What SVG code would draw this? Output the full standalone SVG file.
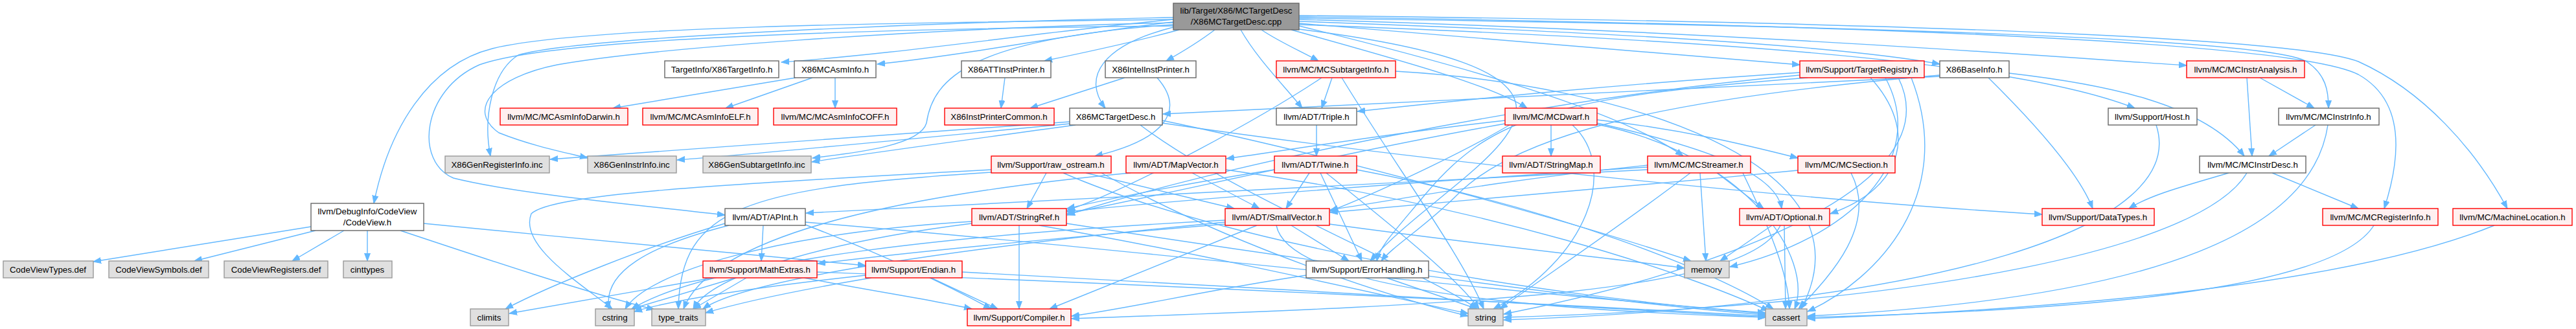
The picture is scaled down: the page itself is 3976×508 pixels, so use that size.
<svg xmlns="http://www.w3.org/2000/svg" width="3976" height="508" viewBox="0 0 3976 508">
<defs>
<style>
.n rect{fill:#ffffff;stroke:#666666;stroke-width:1.4}
.r rect{fill:#fff0f0;stroke:#ff0000;stroke-width:1.4}
.g rect{fill:#e0e0e0;stroke:#999999;stroke-width:1.4}
.root rect{fill:#999999;stroke:#666666;stroke-width:1.4}
text{font-family:"Liberation Sans",Arial,Helvetica,sans-serif;font-size:13.3px;fill:#000000;text-anchor:middle}
#edges path{fill:none;stroke:#63b8ff;stroke-width:1.4;marker-end:url(#a)}
</style>
<marker id="a" markerWidth="13" markerHeight="10" refX="12" refY="5" orient="auto" markerUnits="userSpaceOnUse">
<path d="M0,0.5 L12,5 L0,9.5 z" fill="#63b8ff" stroke="#63b8ff" stroke-width="1"/>
</marker>
</defs>
<rect x="0" y="0" width="3976" height="508" fill="#ffffff"/>
<g id="edges">
<!-- root -->
<path d="M1811,30 C1600,50 1400,82 1206,96"/>
<path d="M1811,34 C1650,52 1500,84 1354,99"/>
<path d="M1811,27 C1500,33 900,55 800,85 C760,110 745,180 757,241"/>
<path d="M1811,35 C1400,45 1000,75 860,100 C760,120 720,170 770,205 C820,225 870,235 907,244"/>
<path d="M1811,38 C1500,60 1440,120 1430,190 C1420,225 1320,236 1254,244"/>
<path d="M1811,30 C1400,35 900,40 760,75 C660,100 600,200 577,314"/>
<path d="M1811,40 C1300,45 850,60 740,100 C650,140 640,250 700,275 C800,300 1000,318 1119,332"/>
<path d="M1875,46 C1850,65 1825,80 1800,94"/>
<path d="M1820,46 C1750,65 1680,80 1612,94"/>
<path d="M1811,42 C1700,70 1670,120 1706,167"/>
<path d="M1947,46 C1975,65 2010,80 2035,94"/>
<path d="M1915,46 C1940,90 1980,130 2010,167"/>
<path d="M1993,46 C2150,90 2300,130 2357,167"/>
<path d="M2005,40 C2250,100 2500,170 2598,241"/>
<path d="M2005,45 C2600,120 2250,250 2115,403"/>
<path d="M2005,38 C2600,60 3100,90 3295,167"/>
<path d="M2005,36 C2300,60 2600,85 2778,100"/>
<path d="M2005,33 C2500,50 2850,72 2994,99"/>
<path d="M2005,30 C2700,50 3200,90 3375,101"/>
<path d="M2005,28 C2900,40 3500,60 3560,95 C3590,115 3594,140 3594,167"/>
<path d="M2005,26 C3000,40 3550,70 3640,115 C3720,160 3700,260 3680,322"/>
<path d="M2005,24 C3000,35 3550,60 3640,95 C3740,140 3820,230 3870,322"/>
<!-- CodeView -->
<path d="M480,350 L144,404"/>
<path d="M487,356 L300,403"/>
<path d="M531,356 L451,403"/>
<path d="M567,356 L567,403"/>
<path d="M654,345 C900,370 1200,395 1336,410"/>
<path d="M618,356 C750,400 900,450 1010,478"/>
<!-- X86MCAsmInfo -->
<path d="M1228,120 L946,167"/>
<path d="M1254,120 L1120,167"/>
<path d="M1289,120 L1289,167"/>
<!-- printers -->
<path d="M1551,120 L1545,167"/>
<path d="M1736,120 L1590,167"/>
<path d="M1786,120 C1830,170 1800,215 1690,241"/>
<!-- X86MCTargetDesc.h -->
<path d="M1651,188 C1300,215 1000,235 849,246"/>
<path d="M1651,191 C1400,215 1200,235 1045,247"/>
<path d="M1660,193 C1500,215 1350,235 1253,250"/>
<path d="M1794,190 C2200,250 2800,310 3152,331"/>
<path d="M1794,186 C2100,250 2450,350 2610,403"/>
<path d="M1760,193 C1900,300 2200,420 2280,477"/>
<!-- MCSubtargetInfo -->
<path d="M2056,120 L2040,167"/>
<path d="M2040,120 C1950,180 1750,290 1647,325"/>
<path d="M2071,120 C2150,250 2260,400 2290,477"/>
<path d="M2154,110 C2500,130 2900,250 2780,477"/>
<!-- TargetRegistry -->
<path d="M2778,112 C2500,130 2300,150 2095,172"/>
<path d="M2887,120 C2960,200 2940,290 2825,330"/>
<path d="M2778,116 C2400,150 1900,250 1647,332"/>
<path d="M2790,120 C2400,150 2300,180 2200,300 C2150,360 2130,380 2125,403"/>
<path d="M2910,120 C2980,250 2850,370 2670,412"/>
<path d="M2930,120 C3020,300 2600,430 2321,485"/>
<path d="M2950,120 C3020,300 2900,430 2790,481"/>
<!-- X86BaseInfo -->
<path d="M2994,118 C2500,140 2100,165 1795,176"/>
<path d="M3101,113 C3250,130 3400,160 3464,241"/>
<path d="M3069,120 C3150,200 3210,270 3230,322"/>
<path d="M2994,116 C2600,150 2350,200 2250,300 C2200,350 2150,380 2132,403"/>
<!-- MCInstrAnalysis / InstrInfo / InstrDesc -->
<path d="M3468,120 L3476,241"/>
<path d="M3488,120 L3572,167"/>
<path d="M3574,193 L3502,241"/>
<path d="M3593,193 C3570,350 3350,460 2790,488"/>
<path d="M3507,267 L3640,322"/>
<path d="M3440,267 C3380,285 3320,300 3286,322"/>
<path d="M3468,267 C3400,380 3000,470 2321,490"/>
<path d="M3664,348 C3600,450 3200,480 2790,490"/>
<path d="M3850,348 C3600,450 3100,480 2790,492"/>
<!-- Host -->
<path d="M3328,193 C3380,350 3000,470 2321,494"/>
<!-- Triple -->
<path d="M2032,193 L2032,241"/>
<!-- MCDwarf -->
<path d="M2394,193 L2394,241"/>
<path d="M2323,186 C2150,205 2000,230 1893,245"/>
<path d="M2330,193 C2250,240 2120,300 2053,326"/>
<path d="M2323,191 C2100,230 1800,300 1647,330"/>
<path d="M2465,190 C2600,220 2740,260 2750,322"/>
<path d="M2465,185 C2600,200 2700,225 2775,244"/>
<path d="M2427,193 C2500,260 2450,400 2305,477"/>
<path d="M2465,192 C2700,240 2800,400 2770,477"/>
<!-- Twine -->
<path d="M2021,267 L1985,322"/>
<path d="M1967,262 C1850,280 1720,305 1647,322"/>
<path d="M2038,267 L2102,403"/>
<path d="M2047,267 C2150,350 2250,430 2283,477"/>
<path d="M2094,262 C2400,320 2650,420 2737,477"/>
<!-- MCStreamer -->
<path d="M2543,262 C2000,290 1500,315 1244,329"/>
<path d="M2650,267 L2722,322"/>
<path d="M2543,255 C2300,280 2150,310 2053,324"/>
<path d="M2543,258 C2200,280 1800,310 1647,327"/>
<path d="M2624,267 L2633,403"/>
<path d="M2609,267 C2500,350 2380,430 2315,477"/>
<path d="M2690,267 C2730,350 2760,420 2762,477"/>
<!-- MCSection -->
<path d="M2775,263 C2500,290 2200,315 2053,328"/>
<path d="M2857,267 C2900,350 2820,430 2776,477"/>
<!-- raw_ostream -->
<path d="M1615,267 L1585,322"/>
<path d="M1676,267 L1905,322"/>
<path d="M1641,267 C1900,380 2400,460 2725,484"/>
<path d="M1530,262 C1100,285 850,300 820,330 C800,380 900,440 945,477"/>
<path d="M1700,267 C1900,380 2150,460 2266,488"/>
<path d="M1530,266 C1150,290 1050,320 1047,477"/>
<!-- MapVector -->
<path d="M1840,267 L1944,322"/>
<path d="M1745,267 C1400,300 1100,360 1055,477"/>
<path d="M1892,262 C2300,320 2600,420 2730,480"/>
<!-- StringRef -->
<path d="M1573,348 L1573,477"/>
<path d="M1500,342 C1200,360 1000,420 965,477"/>
<path d="M1500,345 C1300,370 1100,420 1070,477"/>
<path d="M1604,348 C1900,400 2150,460 2266,484"/>
<path d="M1646,345 C2000,400 2500,470 2725,486"/>
<!-- SmallVector -->
<path d="M1940,348 L1620,477"/>
<path d="M1993,348 L2082,403"/>
<path d="M2052,346 C2300,380 2500,400 2600,414"/>
<path d="M1891,340 C1500,360 1100,400 975,477"/>
<path d="M1891,343 C1500,380 1150,430 1085,477"/>
<path d="M1891,346 C1600,370 1400,390 1262,407"/>
<path d="M1970,348 C1990,450 2400,480 2725,490"/>
<!-- APInt -->
<path d="M1178,348 L1175,403"/>
<path d="M1119,345 C1000,380 850,440 780,477"/>
<path d="M1125,348 C1000,380 930,420 940,477"/>
<path d="M1243,347 C1380,400 1480,450 1530,477"/>
<path d="M1243,343 C1700,380 2300,450 2725,483"/>
<!-- MathExtras -->
<path d="M1100,429 L786,484"/>
<path d="M1135,429 L975,477"/>
<path d="M1152,429 L1070,477"/>
<path d="M1241,429 C1350,450 1450,465 1500,477"/>
<path d="M1261,420 C1800,440 2400,470 2725,488"/>
<!-- Endian -->
<path d="M1437,429 L1540,477"/>
<path d="M1336,425 C1200,440 1050,460 979,481"/>
<path d="M1345,429 C1250,445 1150,465 1089,483"/>
<path d="M1485,420 C1900,440 2400,475 2725,490"/>
<!-- ErrorHandling -->
<path d="M2016,425 C1850,450 1750,475 1654,488"/>
<path d="M2140,429 L2280,477"/>
<!-- Optional -->
<path d="M2735,348 L2655,403"/>
<path d="M2748,348 C2700,450 2300,470 1654,492"/>
<path d="M2754,348 L2756,477"/>
</g>
<g id="n_root" class="root"><rect x="1811" y="5" width="194" height="41"/><text x="1908" y="21">lib/Target/X86/MCTargetDesc</text><text x="1908" y="38">/X86MCTargetDesc.cpp</text></g>
<g id="n_ti" class="n"><rect x="1026" y="94" width="176" height="26"/><text x="1114" y="112">TargetInfo/X86TargetInfo.h</text></g>
<g id="n_asminfo" class="n"><rect x="1226" y="94" width="126" height="26"/><text x="1289" y="112">X86MCAsmInfo.h</text></g>
<g id="n_att" class="n"><rect x="1484" y="94" width="138" height="26"/><text x="1553" y="112">X86ATTInstPrinter.h</text></g>
<g id="n_intel" class="n"><rect x="1706" y="94" width="140" height="26"/><text x="1776" y="112">X86IntelInstPrinter.h</text></g>
<g id="n_subinfo" class="r"><rect x="1970" y="94" width="184" height="26"/><text x="2062" y="112">llvm/MC/MCSubtargetInfo.h</text></g>
<g id="n_treg" class="r"><rect x="2778" y="94" width="192" height="26"/><text x="2874" y="112">llvm/Support/TargetRegistry.h</text></g>
<g id="n_baseinfo" class="n"><rect x="2994" y="94" width="107" height="26"/><text x="3047" y="112">X86BaseInfo.h</text></g>
<g id="n_instran" class="r"><rect x="3375" y="94" width="182" height="26"/><text x="3466" y="112">llvm/MC/MCInstrAnalysis.h</text></g>
<g id="n_darwin" class="r"><rect x="772" y="167" width="197" height="26"/><text x="870" y="185">llvm/MC/MCAsmInfoDarwin.h</text></g>
<g id="n_elf" class="r"><rect x="992" y="167" width="178" height="26"/><text x="1081" y="185">llvm/MC/MCAsmInfoELF.h</text></g>
<g id="n_coff" class="r"><rect x="1194" y="167" width="190" height="26"/><text x="1289" y="185">llvm/MC/MCAsmInfoCOFF.h</text></g>
<g id="n_ipc" class="r"><rect x="1458" y="167" width="169" height="26"/><text x="1542" y="185">X86InstPrinterCommon.h</text></g>
<g id="n_tdh" class="n"><rect x="1651" y="167" width="143" height="26"/><text x="1722" y="185">X86MCTargetDesc.h</text></g>
<g id="n_triple" class="n"><rect x="1970" y="167" width="124" height="26"/><text x="2032" y="185">llvm/ADT/Triple.h</text></g>
<g id="n_dwarf" class="r"><rect x="2323" y="167" width="142" height="26"/><text x="2394" y="185">llvm/MC/MCDwarf.h</text></g>
<g id="n_host" class="n"><rect x="3254" y="167" width="137" height="26"/><text x="3322" y="185">llvm/Support/Host.h</text></g>
<g id="n_instrinfo" class="n"><rect x="3517" y="167" width="155" height="26"/><text x="3594" y="185">llvm/MC/MCInstrInfo.h</text></g>
<g id="n_genreg" class="g"><rect x="687" y="241" width="161" height="26"/><text x="767" y="259">X86GenRegisterInfo.inc</text></g>
<g id="n_geninstr" class="g"><rect x="907" y="241" width="137" height="26"/><text x="975" y="259">X86GenInstrInfo.inc</text></g>
<g id="n_gensub" class="g"><rect x="1085" y="241" width="167" height="26"/><text x="1168" y="259">X86GenSubtargetInfo.inc</text></g>
<g id="n_raw" class="r"><rect x="1530" y="241" width="185" height="26"/><text x="1622" y="259">llvm/Support/raw_ostream.h</text></g>
<g id="n_mapvec" class="r"><rect x="1738" y="241" width="154" height="26"/><text x="1815" y="259">llvm/ADT/MapVector.h</text></g>
<g id="n_twine" class="r"><rect x="1967" y="241" width="127" height="26"/><text x="2030" y="259">llvm/ADT/Twine.h</text></g>
<g id="n_strmap" class="r"><rect x="2319" y="241" width="151" height="26"/><text x="2394" y="259">llvm/ADT/StringMap.h</text></g>
<g id="n_streamer" class="r"><rect x="2543" y="241" width="159" height="26"/><text x="2622" y="259">llvm/MC/MCStreamer.h</text></g>
<g id="n_section" class="r"><rect x="2775" y="241" width="150" height="26"/><text x="2850" y="259">llvm/MC/MCSection.h</text></g>
<g id="n_instrdesc" class="n"><rect x="3395" y="241" width="164" height="26"/><text x="3477" y="259">llvm/MC/MCInstrDesc.h</text></g>
<g id="n_codeview" class="n"><rect x="480" y="314" width="174" height="42"/><text x="567" y="331">llvm/DebugInfo/CodeView</text><text x="567" y="348">/CodeView.h</text></g>
<g id="n_apint" class="n"><rect x="1119" y="322" width="124" height="26"/><text x="1181" y="340">llvm/ADT/APInt.h</text></g>
<g id="n_strref" class="r"><rect x="1500" y="322" width="146" height="26"/><text x="1573" y="340">llvm/ADT/StringRef.h</text></g>
<g id="n_smallvec" class="r"><rect x="1891" y="322" width="161" height="26"/><text x="1971" y="340">llvm/ADT/SmallVector.h</text></g>
<g id="n_optional" class="r"><rect x="2685" y="322" width="139" height="26"/><text x="2754" y="340">llvm/ADT/Optional.h</text></g>
<g id="n_datatypes" class="r"><rect x="3152" y="322" width="173" height="26"/><text x="3238" y="340">llvm/Support/DataTypes.h</text></g>
<g id="n_reginfo" class="r"><rect x="3585" y="322" width="178" height="26"/><text x="3674" y="340">llvm/MC/MCRegisterInfo.h</text></g>
<g id="n_machloc" class="r"><rect x="3786" y="322" width="184" height="26"/><text x="3878" y="340">llvm/MC/MachineLocation.h</text></g>
<g id="n_cvtypes" class="g"><rect x="5" y="403" width="139" height="26"/><text x="74" y="421">CodeViewTypes.def</text></g>
<g id="n_cvsym" class="g"><rect x="168" y="403" width="154" height="26"/><text x="245" y="421">CodeViewSymbols.def</text></g>
<g id="n_cvreg" class="g"><rect x="346" y="403" width="160" height="26"/><text x="426" y="421">CodeViewRegisters.def</text></g>
<g id="n_cinttypes" class="g"><rect x="530" y="403" width="75" height="26"/><text x="567" y="421">cinttypes</text></g>
<g id="n_mathext" class="r"><rect x="1085" y="403" width="176" height="26"/><text x="1173" y="421">llvm/Support/MathExtras.h</text></g>
<g id="n_endian" class="r"><rect x="1336" y="403" width="149" height="26"/><text x="1410" y="421">llvm/Support/Endian.h</text></g>
<g id="n_errh" class="n"><rect x="2016" y="403" width="189" height="26"/><text x="2110" y="421">llvm/Support/ErrorHandling.h</text></g>
<g id="n_memory" class="g"><rect x="2600" y="403" width="69" height="26"/><text x="2634" y="421">memory</text></g>
<g id="n_climits" class="g"><rect x="726" y="477" width="59" height="26"/><text x="755" y="495">climits</text></g>
<g id="n_cstring" class="g"><rect x="919" y="477" width="60" height="26"/><text x="949" y="495">cstring</text></g>
<g id="n_typetraits" class="g"><rect x="1006" y="477" width="83" height="26"/><text x="1047" y="495">type_traits</text></g>
<g id="n_compiler" class="r"><rect x="1493" y="477" width="160" height="26"/><text x="1573" y="495">llvm/Support/Compiler.h</text></g>
<g id="n_string" class="g"><rect x="2266" y="477" width="54" height="26"/><text x="2293" y="495">string</text></g>
<g id="n_cassert" class="g"><rect x="2725" y="477" width="64" height="26"/><text x="2757" y="495">cassert</text></g>
</svg>
